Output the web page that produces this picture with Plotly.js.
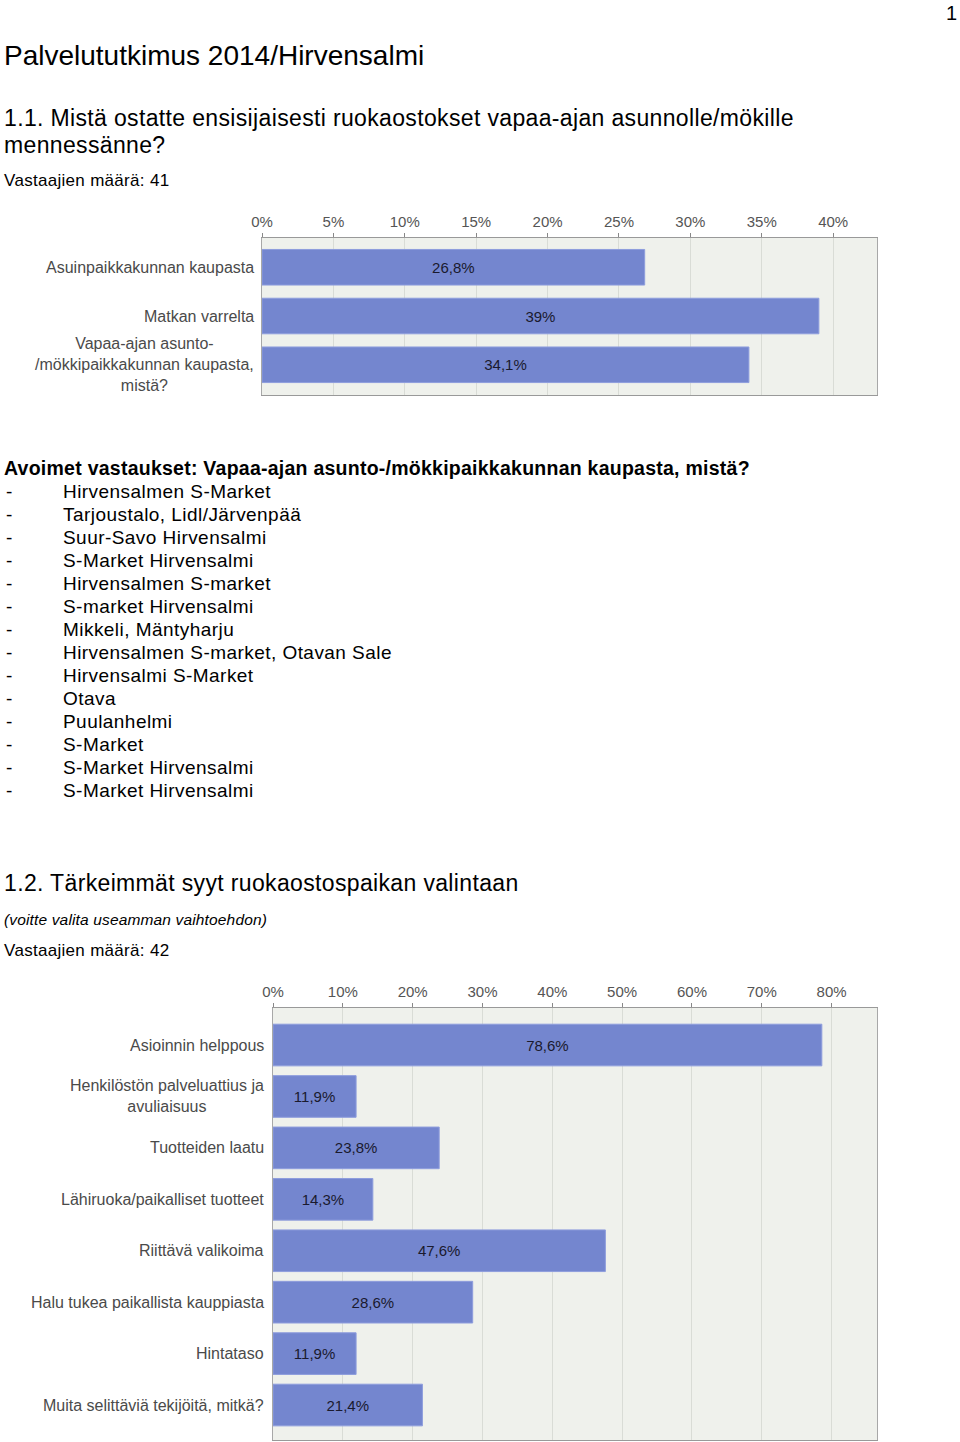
<!DOCTYPE html>
<html>
<head>
<meta charset="utf-8">
<script src="https://cdn.plot.ly/plotly-3.0.1.min.js"></script>
<style>
  html, body { margin: 0; padding: 0; background: #fff; }
  #chart { width: 960px; height: 1442px; }
</style>
</head>
<body>
<div id="chart"></div>
<script>
// ---------- data ----------
const pageNumber = '1';
const docTitle = 'Palvelututkimus 2014/Hirvensalmi';
const q1Title = ['1.1. Mistä ostatte ensisijaisesti ruokaostokset vapaa-ajan asunnolle/mökille', 'mennessänne?'];
const q1Respondents = 'Vastaajien määrä: 41';
const q1Categories = ['Asuinpaikkakunnan kaupasta', 'Matkan varrelta', 'Vapaa-ajan asunto-<br>/mökkipaikkakunnan kaupasta,<br>mistä?'];
const q1Values = [26.8, 39, 34.1];
const q1Ticks = [0, 5, 10, 15, 20, 25, 30, 35, 40];

const openHeading = 'Avoimet vastaukset: Vapaa-ajan asunto-/mökkipaikkakunnan kaupasta, mistä?';
const openAnswers = [
  'Hirvensalmen S-Market',
  'Tarjoustalo, Lidl/Järvenpää',
  'Suur-Savo Hirvensalmi',
  'S-Market Hirvensalmi',
  'Hirvensalmen S-market',
  'S-market Hirvensalmi',
  'Mikkeli, Mäntyharju',
  'Hirvensalmen S-market, Otavan Sale',
  'Hirvensalmi S-Market',
  'Otava',
  'Puulanhelmi',
  'S-Market',
  'S-Market Hirvensalmi',
  'S-Market Hirvensalmi'
];

const q2Title = '1.2. Tärkeimmät syyt ruokaostospaikan valintaan';
const q2Note = '(voitte valita useamman vaihtoehdon)';
const q2Respondents = 'Vastaajien määrä: 42';
const q2Categories = ['Asioinnin helppous', 'Henkilöstön palveluattius ja<br>avuliaisuus', 'Tuotteiden laatu', 'Lähiruoka/paikalliset tuotteet', 'Riittävä valikoima', 'Halu tukea paikallista kauppiasta', 'Hintataso', 'Muita selittäviä tekijöitä, mitkä?'];
const q2Values = [78.6, 11.9, 23.8, 14.3, 47.6, 28.6, 11.9, 21.4];
const q2Ticks = [0, 10, 20, 30, 40, 50, 60, 70, 80];

// ---------- helpers ----------
const W = 960, H = 1442;
const px = x => x / W;
const py = y => 1 - y / H;
const fmt = v => (Number.isInteger(v) ? String(v) : v.toFixed(1).replace('.', ',')) + '%';
const FONT = 'Liberation Sans, Arial, sans-serif';

const annotations = [];
function txt(text, x, y, size, ls, opts = {}) {
  const t = ls ? '<span style="letter-spacing:' + ls + 'px">' + text + '</span>' : text;
  annotations.push(Object.assign({
    text: t, x: px(x), y: py(y), xref: 'paper', yref: 'paper',
    xanchor: 'left', yanchor: 'middle', showarrow: false,
    font: { family: FONT, size, color: '#000' }
  }, opts));
}

txt(pageNumber, 959, 13, 20, 0, { xanchor: 'right' });
txt(docTitle, 2, 56, 28, 0);
txt(q1Title[0], 2, 118, 23, 0.35);
txt(q1Title[1], 2, 145, 23, 0.35);
txt(q1Respondents, 2, 181, 17, 0.3);
txt('<b>' + openHeading + '</b>', 2, 468, 19.5, 0.25);
openAnswers.forEach((a, i) => {
  const y = 491 + i * 23;
  txt('-', 4, y, 19, 0);
  txt(a, 61, y, 19, 0.45);
});
txt(q2Title, 2, 883, 23, 0.35);
txt('<i>' + q2Note + '</i>', 2, 919, 15.5, 0.15);
txt(q2Respondents, 2, 950, 17, 0.3);

// category labels as annotations on each chart
function catLabels(cats, yref, rightX) {
  cats.forEach((c, i) => {
    annotations.push({
      text: c, x: px(rightX), y: i, xref: 'paper', yref,
      xanchor: 'right', yanchor: 'middle', align: 'center', showarrow: false,
      font: { family: FONT, size: 16, color: '#4a4a4a' }
    });
  });
}
catLabels(q1Categories, 'y', 256);
catLabels(q2Categories, 'y2', 266);

const barColor = '#7486cf';
function barTrace(cats, vals, xa, ya, width) {
  return {
    type: 'bar', orientation: 'h',
    x: vals, y: cats.map((c, i) => i),
    xaxis: xa, yaxis: ya, width,
    text: vals.map(fmt), textposition: 'inside', insidetextanchor: 'middle',
    textangle: 0, constraintext: 'none',
    insidetextfont: { family: FONT, size: 15, color: '#1a1a2e' },
    marker: { color: barColor, line: { color: '#8e9ddd', width: 1 } },
    hoverinfo: 'skip'
  };
}

function xAxis(domain, range, ticks, anchor) {
  return {
    domain, range, anchor, side: 'top',
    tickvals: ticks, ticktext: ticks.map(t => t + '%'),
    ticks: 'outside', ticklen: 4, tickcolor: '#888',
    tickfont: { family: FONT, size: 15, color: '#555' },
    showgrid: true, gridcolor: '#d9dcd6', gridwidth: 1,
    showline: true, linecolor: '#999', linewidth: 1, mirror: true,
    zeroline: false, fixedrange: true
  };
}
function yAxis(domain, n, pad, anchor) {
  return {
    domain, anchor, range: [n - 1 + pad[1], -pad[0]],
    showticklabels: false, ticks: '', showgrid: false, zeroline: false,
    showline: true, linecolor: '#a8a8a8', linewidth: 1, mirror: true,
    fixedrange: true
  };
}

const data = [
  barTrace(q1Categories, q1Values, 'x', 'y', 0.73),
  barTrace(q2Categories, q2Values, 'x2', 'y2', 0.81)
];

const layout = {
  width: W, height: H,
  margin: { l: 0, r: 0, t: 0, b: 0 },
  paper_bgcolor: '#fff',
  plot_bgcolor: '#eff1ec',
  showlegend: false,
  bargap: 0,
  xaxis: xAxis([px(262), px(877)], [0, 43.07], q1Ticks, 'y'),
  yaxis: yAxis([py(395), py(238)], q1Categories.length, [0.6, 0.62], 'x'),
  xaxis2: xAxis([px(273), px(877)], [0, 86.5], q2Ticks, 'y2'),
  yaxis2: yAxis([py(1440), py(1008)], q2Categories.length, [0.72, 0.68], 'x2'),
  annotations
};

Plotly.newPlot('chart', data, layout, { staticPlot: true, displayModeBar: false });
</script>
</body>
</html>
